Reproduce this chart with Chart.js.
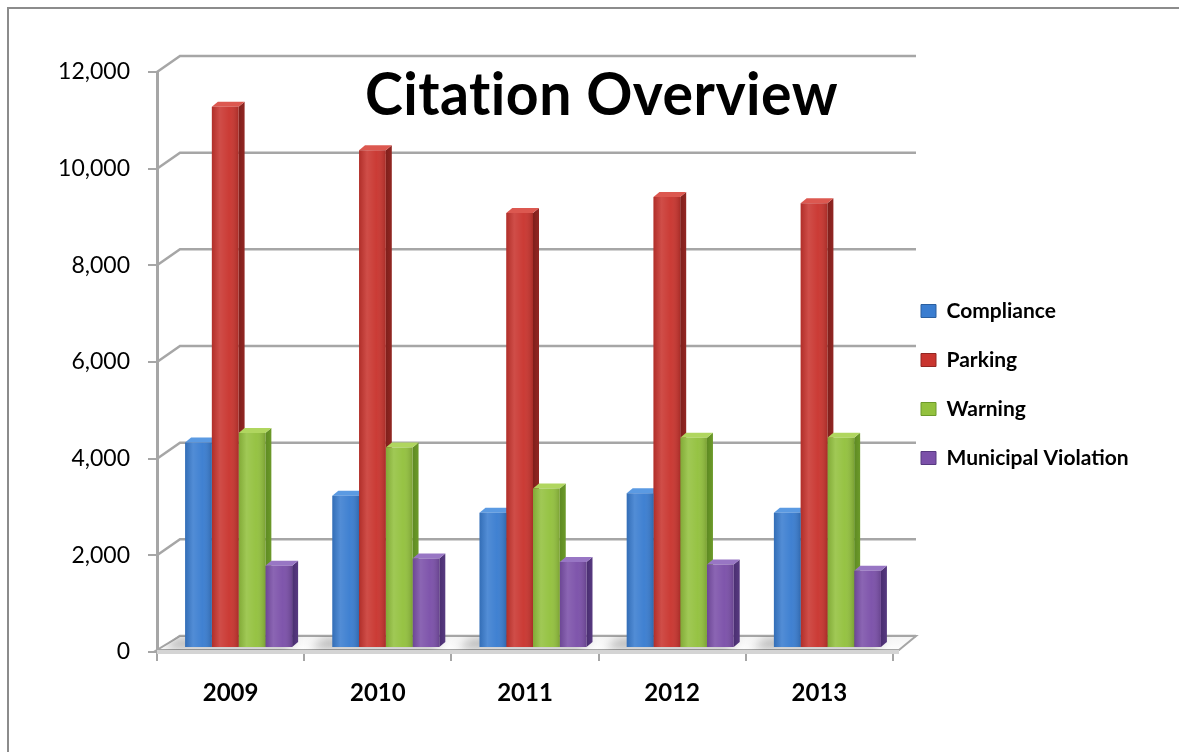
<!DOCTYPE html>
<html>
<head>
<meta charset="utf-8">
<title>Citation Overview</title>
<script src="https://cdn.jsdelivr.net/npm/chart.js@4.4.1/dist/chart.umd.min.js"></script>
<style>
  html, body { margin: 0; padding: 0; background: #ffffff; overflow: hidden; }
  #wrap { width: 1179px; height: 752px; }
  canvas { display: block; }
</style>
</head>
<body>
<div id="wrap"><canvas id="chart" width="1179" height="752"></canvas></div>
<script>
// ---- data ----
const categories = ['2009', '2010', '2011', '2012', '2013'];
const seriesNames = ['Compliance', 'Parking', 'Warning', 'Municipal Violation'];
const complianceValues = [4250, 3150, 2800, 3200, 2800];
const parkingValues = [11200, 10300, 9000, 9330, 9200];
const warningValues = [4450, 4150, 3300, 4350, 4350];
const municipalValues = [1700, 1850, 1780, 1730, 1600];
const yTickValues = [0, 2000, 4000, 6000, 8000, 10000, 12000];
const titleText = 'Citation Overview';

// ---- styling ----
const FONT = 'Lato';
const faceColors = [
  { front: '#3a7dd0', side: '#22508c', top: '#5b9ae2', edge: '#2b5f9f' },
  { front: '#c9352f', side: '#7f1f1b', top: '#dc5850', edge: '#922723' },
  { front: '#93c13e', side: '#5e8a22', top: '#b0d65f', edge: '#6c9a2a' },
  { front: '#7b50a9', side: '#4a2e71', top: '#9876c4', edge: '#573a80' }
];
const GRID_COLOR = '#a6a6a6';
const WALL_DEPTH = { x: 23, y: 16 };   // offset of the back wall from the front plane
const BAR_SHIFT = { x: 8, y: -4 };     // bars stand slightly behind the front plane
const BAR_DEPTH = { x: 6, y: 5 };      // visible depth of each column
const PLOT_TOP = 72;
const PLOT_RIGHT = 893;
const PLOT_BOTTOM = 652;

const seriesValues = [complianceValues, parkingValues, warningValues, municipalValues];

function poly(ctx, pts) {
  ctx.beginPath();
  ctx.moveTo(pts[0][0], pts[0][1]);
  for (let i = 1; i < pts.length; i++) ctx.lineTo(pts[i][0], pts[i][1]);
  ctx.closePath();
}

function barBoxes(chart) {
  // bar geometry grouped by category, left to right
  const groups = categories.map(() => []);
  chart.data.datasets.forEach((ds, di) => {
    const meta = chart.getDatasetMeta(di);
    if (!chart.isDatasetVisible(di)) return;
    meta.data.forEach((el, i) => {
      const p = el.getProps(['x', 'y', 'base', 'width'], true);
      groups[i].push({ di, x0: p.x - p.width / 2, x1: p.x + p.width / 2, y: p.y, base: p.base });
    });
  });
  groups.forEach(g => g.sort((a, b) => a.x0 - b.x0));
  return groups;
}

const stagePlugin = {
  id: 'stage3d',
  beforeDraw(chart) {
    const ctx = chart.ctx;
    ctx.save();
    ctx.fillStyle = '#ffffff';
    ctx.fillRect(0, 0, chart.width, chart.height);
    // outer frame of the chart object
    ctx.strokeStyle = '#8c8c8c';
    ctx.lineWidth = 2;
    ctx.beginPath();
    ctx.moveTo(8, chart.height);
    ctx.lineTo(8, 8);
    ctx.lineTo(chart.width, 8);
    ctx.stroke();
    ctx.restore();
  },
  beforeDatasetsDraw(chart) {
    const ctx = chart.ctx;
    const { left, right, bottom } = chart.chartArea;
    const ys = chart.scales.y;
    const dx = WALL_DEPTH.x, dy = WALL_DEPTH.y;

    ctx.save();
    // side-wall diagonals and back-wall gridlines
    ctx.strokeStyle = GRID_COLOR;
    ctx.lineWidth = 2.5;
    yTickValues.forEach(v => {
      const py = ys.getPixelForValue(v);
      ctx.beginPath();
      ctx.moveTo(left, py);
      ctx.lineTo(left + dx, py - dy);
      ctx.lineTo(right + dx, py - dy);
      ctx.stroke();
    });

    // floor plate
    const floorTop = [[left, bottom - 2], [right + 6, bottom - 2], [right + dx, bottom - dy], [left + dx, bottom - dy]];
    const fg = ctx.createLinearGradient(0, bottom - dy, 0, bottom);
    fg.addColorStop(0, '#f4f4f4');
    fg.addColorStop(1, '#ffffff');
    poly(ctx, floorTop);
    ctx.fillStyle = fg;
    ctx.fill();
    ctx.lineWidth = 2;
    ctx.strokeStyle = GRID_COLOR;
    ctx.stroke();
    ctx.fillStyle = '#d4d4d4';
    ctx.fillRect(left, bottom - 2, right + 6 - left, 4);

    // soft shadows cast by the columns on the floor
    const groups = barBoxes(chart);
    ctx.save();
    poly(ctx, floorTop);
    ctx.clip();
    ctx.filter = 'blur(5px)';
    ctx.fillStyle = 'rgba(0,0,0,0.28)';
    groups.forEach(g => {
      if (!g.length) return;
      const gx0 = g[0].x0 + BAR_SHIFT.x, gx1 = g[g.length - 1].x1 + BAR_SHIFT.x;
      poly(ctx, [[gx0 - 22, bottom - 3], [gx1 - 6, bottom - 3], [gx1 + 4, bottom - 13], [gx0 - 8, bottom - 13]]);
      ctx.fill();
    });
    ctx.restore();
    ctx.restore();

    // column sides and tops, painted before the front faces
    ctx.save();
    ctx.translate(BAR_SHIFT.x, BAR_SHIFT.y);
    const bx = BAR_DEPTH.x, by = BAR_DEPTH.y;
    groups.forEach(g => {
      g.forEach(b => {
        const c = faceColors[b.di];
        const sg = ctx.createLinearGradient(b.x1, 0, b.x1 + bx, 0);
        sg.addColorStop(0, c.side);
        sg.addColorStop(1, c.edge);
        poly(ctx, [[b.x1, b.y], [b.x1 + bx, b.y - by], [b.x1 + bx, b.base - by], [b.x1, b.base]]);
        ctx.fillStyle = sg;
        ctx.fill();
        poly(ctx, [[b.x0, b.y], [b.x1, b.y], [b.x1 + bx, b.y - by], [b.x0 + bx, b.y - by]]);
        ctx.fillStyle = c.top;
        ctx.fill();
      });
    });
    // the translation stays active while the library paints the front faces
  },
  afterDatasetsDraw(chart) {
    const ctx = chart.ctx;
    // shading over each front face
    barBoxes(chart).forEach(g => g.forEach(b => {
      const gr = ctx.createLinearGradient(b.x0, 0, b.x1, 0);
      gr.addColorStop(0, 'rgba(0,0,0,0.12)');
      gr.addColorStop(0.3, 'rgba(255,255,255,0.12)');
      gr.addColorStop(0.65, 'rgba(255,255,255,0.03)');
      gr.addColorStop(1, 'rgba(0,0,0,0.16)');
      ctx.fillStyle = gr;
      ctx.fillRect(b.x0, b.y, b.x1 - b.x0, b.base - b.y);
    }));
    ctx.restore();
  },
  afterDraw(chart) {
    const ctx = chart.ctx;
    ctx.save();
    ctx.font = 'bold 60px ' + FONT;
    if ('letterSpacing' in ctx) ctx.letterSpacing = '0.5px';
    ctx.fillStyle = '#000000';
    ctx.textBaseline = 'alphabetic';
    const w = ctx.measureText(titleText).width;
    ctx.translate(365, 115);
    ctx.scale(473 / w, 1);
    ctx.fillText(titleText, 0, 0);
    ctx.restore();
  }
};

function build() {
  const m = document.createElement('canvas').getContext('2d');
  m.font = 'bold 21px ' + FONT;
  const textW = Math.max(...seriesNames.map(n => m.measureText(n).width));
  const legendPad = 28, boxW = 15, fontSize = 21;
  const legendWidth = legendPad + boxW + fontSize / 2 + textW + 10;
  const padRight = 1179 - PLOT_RIGHT - legendWidth;

  // x axis height as the library measures it: tick mark + padding on both sides + one label line
  const xTickLen = 9, xPad = 18, xLine = 24 * 1.2;
  const xAxisHeight = xTickLen + 2 * xPad + xLine;
  const padBottom = 752 - PLOT_BOTTOM - xAxisHeight;
  // legend rows are centred in the outer box; this top padding places them
  const padTop = padBottom + 17;

  Chart.defaults.font.family = FONT;
  Chart.defaults.color = '#000000';

  new Chart(document.getElementById('chart'), {
    type: 'bar',
    data: {
      labels: categories,
      datasets: seriesNames.map((name, i) => ({
        label: name,
        data: seriesValues[i],
        backgroundColor: faceColors[i].front,
        borderWidth: 0,
        categoryPercentage: 0.727,
        barPercentage: 1.0,
        clip: false
      }))
    },
    options: {
      responsive: false,
      devicePixelRatio: 1,
      animation: false,
      events: [],
      layout: { padding: { top: padTop, bottom: padBottom, left: 0, right: padRight } },
      scales: {
        x: {
          offset: true,
          grid: { display: true, offset: true, drawOnChartArea: false, drawTicks: true, tickLength: xTickLen, color: GRID_COLOR, lineWidth: 2 },
          border: { display: true, color: GRID_COLOR, width: 2 },
          ticks: { font: { size: 24, weight: 'bold', lineHeight: 1.2 }, color: '#000000', padding: xPad, maxRotation: 0 }
        },
        y: {
          min: 0,
          max: 12000,
          afterBuildTicks(scale) { scale.ticks = yTickValues.map(v => ({ value: v })); },
          grid: { display: true, drawOnChartArea: false, drawTicks: true, tickLength: 9, color: GRID_COLOR, lineWidth: 2 },
          border: { display: true, color: GRID_COLOR, width: 3 },
          ticks: {
            font: { size: 23 },
            color: '#000000',
            padding: 18,
            callback: v => Number(v).toLocaleString('en-US')
          },
          afterFit(scale) {
            scale.width = 157;
            scale.paddingTop = PLOT_TOP;
          }
        }
      },
      plugins: {
        title: { display: false },
        tooltip: { enabled: false },
        legend: {
          display: true,
          position: 'right',
          align: 'center',
          labels: {
            font: { size: fontSize, weight: 'bold' },
            color: '#000000',
            boxWidth: boxW,
            boxHeight: 13,
            padding: legendPad,
            generateLabels(chart) {
              return chart.data.datasets.map((ds, i) => ({
                text: ds.label,
                fillStyle: faceColors[i].front,
                strokeStyle: faceColors[i].edge,
                lineWidth: 1,
                hidden: false,
                datasetIndex: i
              }));
            }
          }
        }
      }
    },
    plugins: [stagePlugin]
  });
}

const fontJobs = document.fonts && document.fonts.load
  ? Promise.all([document.fonts.load('bold 21px ' + FONT), document.fonts.load('23px ' + FONT)])
  : Promise.resolve();
fontJobs.then(build, build);
</script>
</body>
</html>
